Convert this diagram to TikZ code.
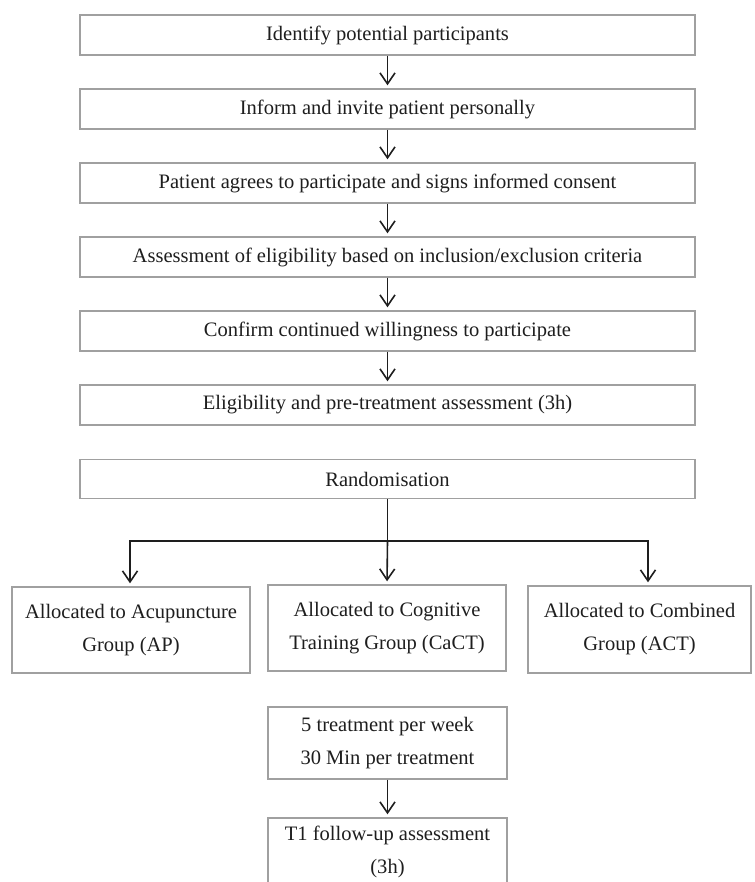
\documentclass[tikz,border=0pt]{standalone}
\usepackage{fontspec}
\setmainfont{Liberation Serif}
\usetikzlibrary{arrows.meta}
\definecolor{boxline}{HTML}{A0A0A0}
\definecolor{ink}{HTML}{1E1E1E}
\tikzset{
  box/.style={draw=boxline, line width=1.4bp, inner sep=0pt, align=center, text=ink,
    font=\fontsize{20.6pt}{33.1pt}\selectfont},
  wide/.style={box, minimum width=615bp, minimum height=40bp},
  twoline/.style={box, execute at begin node={\rule{0pt}{22bp}}},
  grp/.style={twoline, minimum width=238bp, minimum height=86bp},
  arr/.style={draw=ink, line width=1.6bp, -{Straight Barb[length=11bp,width=15bp,line width=1.6bp]}, shorten >=3bp},
  conn/.style={draw=ink, line width=1.6bp}
}
\begin{document}
\begin{tikzpicture}[x=1bp,y=-1bp]
\clip (0,0) rectangle (755,882);
\fill[white] (0,0) rectangle (755,882);
\node[wide] (b1) at (387.5,35) {Identify potential participants};
\node[wide] (b2) at (387.5,109) {Inform and invite patient personally};
\node[wide] (b3) at (387.5,183) {Patient agrees to participate and signs informed consent};
\node[wide] (b4) at (387.5,257) {Assessment of eligibility based on inclusion/exclusion criteria};
\node[wide] (b5) at (387.5,331) {Confirm continued willingness to participate};
\node[wide] (b6) at (387.5,405) {Eligibility and pre-treatment assessment (3h)};
\node[wide, minimum height=39bp] (rand) at (387.5,479) {Randomisation};
\node[grp] (g1) at (131,630) {Allocated to Acupuncture\\Group (AP)};
\node[grp] (g2) at (387,628) {Allocated to Cognitive\\Training Group (CaCT)};
\node[grp, minimum width=223bp, minimum height=87bp] (g3) at (639.5,629.5) {Allocated to Combined\\Group (ACT)};
\node[twoline, minimum width=239bp, minimum height=72bp] (tr) at (387.5,743) {5 treatment per week\\30 Min per treatment};
\node[twoline, minimum width=239bp, minimum height=68bp] (t1) at (387.5,852) {T1 follow-up assessment\\(3h)};
\draw[arr] (b1) -- (b2);
\draw[arr] (b2) -- (b3);
\draw[arr] (b3) -- (b4);
\draw[arr] (b4) -- (b5);
\draw[arr] (b5) -- (b6);
\coordinate (sp) at (387.5,541);
\coordinate (spL) at (130,541);
\coordinate (spR) at (648,541);
\draw[conn] (rand.south) -- (sp);
\draw[conn, line cap=rect] (spL) -- (spR);
\draw[arr] (spL) -- (spL |- g1.north);
\draw[arr] (sp) -- (g2.north);
\draw[arr] (spR) -- (spR |- g3.north);
\draw[arr] (tr) -- (t1);
\end{tikzpicture}
\end{document}
